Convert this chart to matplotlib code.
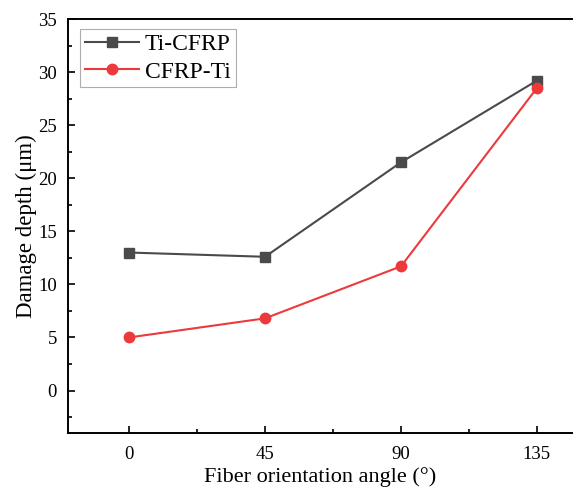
import matplotlib
matplotlib.use("Agg")
import matplotlib.pyplot as plt
from matplotlib.ticker import MultipleLocator

angles = [0, 45, 90, 135]
ti_cfrp = [13.0, 12.6, 21.5, 29.2]
cfrp_ti = [5.0, 6.8, 11.7, 28.5]
xtick_labels = ["0", "45", "90", "135"]

plt.rcParams['font.family'] = ['Liberation Serif', 'DejaVu Serif']

fig = plt.figure(figsize=(5.73, 4.9), dpi=100)
ax = fig.add_axes([68/573, 1-433/490, (572-68)/573, (433-19)/490])

ax.plot(angles, ti_cfrp, color='#4a4a4a', marker='s', markersize=7, lw=1.5, label='Ti-CFRP')
ax.plot(angles, cfrp_ti, color='#ec3a3c', marker='o', markersize=7.5, lw=1.5, label='CFRP-Ti')

ax.set_xlim(-20.2, 146.6)
ax.set_ylim(-4, 35)
ax.set_xticks(angles)
ax.set_xticklabels(xtick_labels)
ax.xaxis.set_minor_locator(MultipleLocator(22.5))
ax.yaxis.set_major_locator(MultipleLocator(5))
ax.yaxis.set_minor_locator(MultipleLocator(2.5))
ax.tick_params(which='both', direction='in', labelsize=13.5, width=1.2)
ax.tick_params(which='major', length=5)
ax.tick_params(which='minor', length=3)
ax.tick_params(axis='y', pad=8)
ax.tick_params(axis='x', pad=9)
for s in ax.spines.values():
    s.set_linewidth(1.4)
ax.spines['right'].set_visible(False)

ax.set_xlabel('Fiber orientation angle (°)', fontsize=16, labelpad=3)
ax.set_ylabel('Damage depth (μm)', fontsize=16.5, labelpad=1)

leg = ax.legend(loc='upper left', bbox_to_anchor=(0.024, 0.976), fontsize=17, frameon=True,
                fancybox=False, edgecolor='#999999', handlelength=2.3, borderpad=0.2,
                labelspacing=0.25, handletextpad=0.25, borderaxespad=0)
leg.get_frame().set_linewidth(0.8)

fig.savefig('out.png', dpi=100)
